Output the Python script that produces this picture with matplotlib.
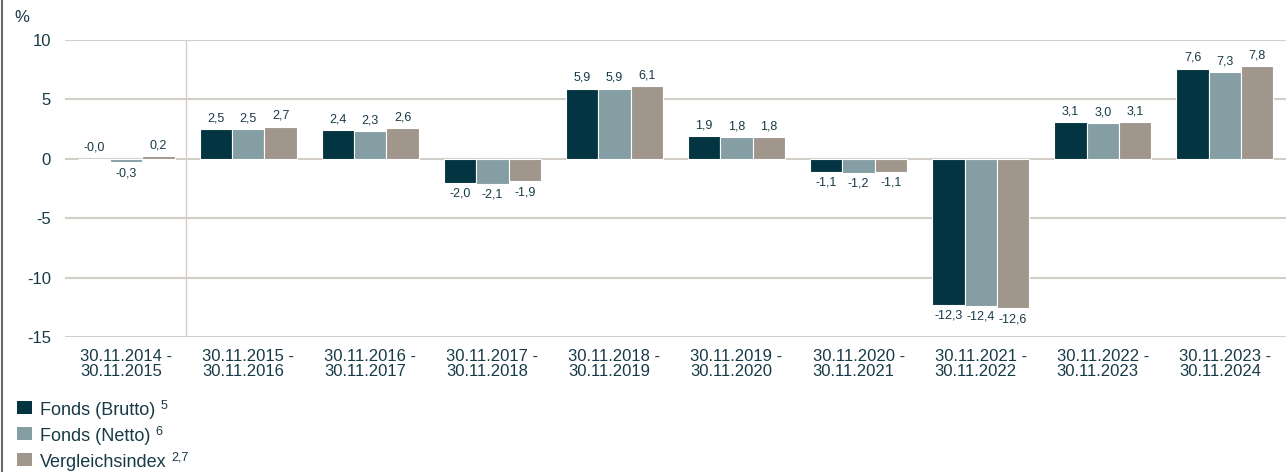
import matplotlib
matplotlib.use('Agg')
import matplotlib.pyplot as plt
import matplotlib.lines as mlines
import matplotlib.patches as mpatches
import numpy as np

plt.rcParams['font.family'] = ['Liberation Sans', 'DejaVu Sans']

# ─── Data ────────────────────────────────────────────────────────────────────
periods = [
    '30.11.2014 -\n30.11.2015', '30.11.2015 -\n30.11.2016', '30.11.2016 -\n30.11.2017',
    '30.11.2017 -\n30.11.2018', '30.11.2018 -\n30.11.2019', '30.11.2019 -\n30.11.2020',
    '30.11.2020 -\n30.11.2021', '30.11.2021 -\n30.11.2022', '30.11.2022 -\n30.11.2023',
    '30.11.2023 -\n30.11.2024',
]
brutto = [-0.04, 2.5, 2.4, -2.0, 5.9, 1.9, -1.1, -12.3, 3.1, 7.6]
netto = [-0.3, 2.5, 2.3, -2.1, 5.9, 1.8, -1.2, -12.4, 3.0, 7.3]
index = [0.2, 2.7, 2.6, -1.9, 6.1, 1.8, -1.1, -12.6, 3.1, 7.8]
series_names = ['Fonds (Brutto)', 'Fonds (Netto)', 'Vergleichsindex']
series_sup = ['5', '6', '2,7']
yticks = [-15, -10, -5, 0, 5, 10]

colors = ['#023441', '#849ea4', '#a0968c']
text_color = '#173a47'
grid_color = '#d3cec8'

W, H = 1286, 472
fig = plt.figure(figsize=(W / 100, H / 100), dpi=100, facecolor='white')
ax = fig.add_axes([65 / W, 1 - 337 / H, 1221 / W, 297 / H])

x = np.arange(len(periods))
w = 0.265
for k, (vals, col) in enumerate(zip([brutto, netto, index], colors)):
    pos = x + (k - 1) * w
    ax.bar(pos, vals, width=w, color=col, edgecolor='white', linewidth=0.8, zorder=3)
    for xi, v in zip(pos, vals):
        txt = f"{v:.1f}".replace('.', ',')
        if v > -0.1:
            ax.annotate(txt, (xi, max(v, 0)), xytext=(0, 3.5), textcoords='offset points',
                        ha='center', va='bottom', fontsize=9, color=text_color)
        else:
            ax.annotate(txt, (xi, v), xytext=(0, -3.5), textcoords='offset points',
                        ha='center', va='top', fontsize=9, color=text_color)

ax.set_xlim(-0.5, len(periods) - 0.5)
ax.set_ylim(-15, 10)
ax.set_yticks(yticks)
ax.set_yticklabels([str(t) for t in yticks])
ax.set_xticks(x)
ax.set_xticklabels(periods, linespacing=1.05, multialignment='left')
ax.tick_params(axis='both', length=0, labelsize=12, colors=text_color)
ax.tick_params(axis='y', pad=10)
ax.tick_params(axis='x', pad=8.5)

ax.yaxis.grid(True, color=grid_color, linewidth=1.5, zorder=0)
ax.axvline(0.49, color=grid_color, linewidth=1.0, zorder=0)
for s in ax.spines.values():
    s.set_visible(False)

# "%" unit label
fig.text(22 / W, 1 - 18 / H, '%', fontsize=12, color=text_color, ha='center', va='center')

# left border
fig.add_artist(mlines.Line2D([2 / W, 2 / W], [0, 1], transform=fig.transFigure,
                             color='#6e6a66', linewidth=1.5))

# ─── Legend ──────────────────────────────────────────────────────────────────
fig.canvas.draw()
renderer = fig.canvas.get_renderer()
baselines = [415, 441, 467]
for name, sup, col, yy in zip(series_names, series_sup, colors, baselines):
    yb = 1 - yy / H
    fig.add_artist(mpatches.Rectangle((17 / W, yb + 1 / H), 15 / W, 13 / H,
                                      transform=fig.transFigure, facecolor=col,
                                      edgecolor='none'))
    t = fig.text(40 / W, yb, name, fontsize=13, color=text_color, ha='left', va='baseline')
    bb = t.get_window_extent(renderer=renderer)
    fig.text((bb.x1 + 5) / W, yb + 6 / H, sup, fontsize=9, color=text_color,
             ha='left', va='baseline')

fig.savefig('out.png', dpi=100, facecolor='white')
